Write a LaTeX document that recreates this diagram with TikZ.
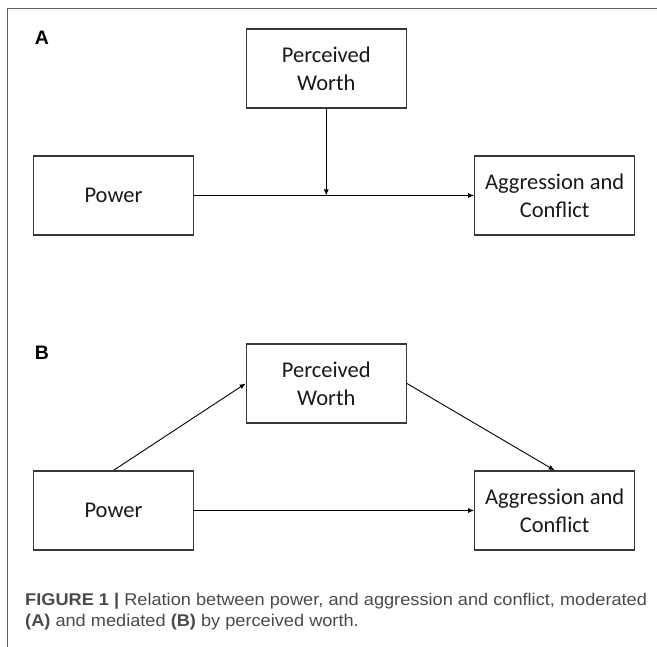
\documentclass[tikz,border=0pt]{standalone}
\usepackage{fontspec}
\setmainfont{Liberation Sans}
\newfontfamily\boxfont{Carlito}
\newfontfamily\capfont[FakeStretch=1.07]{Liberation Sans}
\usetikzlibrary{arrows.meta}
\definecolor{framegray}{HTML}{606060}
\definecolor{boxgray}{HTML}{383838}
\definecolor{capgray}{HTML}{4A4A4A}
\tikzset{
  varbox/.style={draw=boxgray, line width=1.3pt, minimum width=160pt, minimum height=79pt,
    inner sep=0pt, align=center, font=\boxfont\fontsize{22.5}{28}\selectfont, text=black!90},
  conn/.style={draw=black, line width=0.9pt, -{Latex[length=6pt,width=5pt]}},
  panel/.style={font=\bfseries\fontsize{19.5}{22}\selectfont, text=black},
  captext/.style={anchor=base west, inner sep=0pt, text=capgray,
    font=\capfont\fontsize{17}{21}\selectfont},
}
\begin{document}
\begin{tikzpicture}[x=1pt,y=-1pt]
\useasboundingbox (0,0) rectangle (657,647);
% frame
\draw[framegray, line width=1.4pt] (7.5,647) -- (7.5,8.5) -- (657,8.5);
% panel A
\node[panel] (labA) at (42,38) {A};
\node[varbox] (pwA) at (326.3,68.5) {Perceived\\Worth};
\node[varbox] (powA) at (113.5,195.5) {Power};
\node[varbox] (agA) at (554.7,195.5) {Aggression and\\Conflict};
\coordinate (midA) at (326.3,195.5);
\draw[conn] (powA) -- (agA);
\draw[conn] (pwA.south) -- (midA);
% panel B
\node[panel] (labB) at (42,353) {B};
\node[varbox] (pwB) at (326.3,383.5) {Perceived\\Worth};
\node[varbox] (powB) at (113.5,510.5) {Power};
\node[varbox] (agB) at (554.7,510.5) {Aggression and\\Conflict};
\draw[conn] (powB) -- (agB);
\draw[conn] (powB.north) -- (pwB.west);
\draw[conn] (pwB.east) -- (agB.north);
% caption
\node[captext] (cap1) at (25,605)
  {\textbf{FIGURE 1 |} Relation between power, and aggression and conflict, moderated};
\node[captext] (cap2) at (25,626)
  {\textbf{(A)} and mediated \textbf{(B)} by perceived worth.};
\end{tikzpicture}
\end{document}
